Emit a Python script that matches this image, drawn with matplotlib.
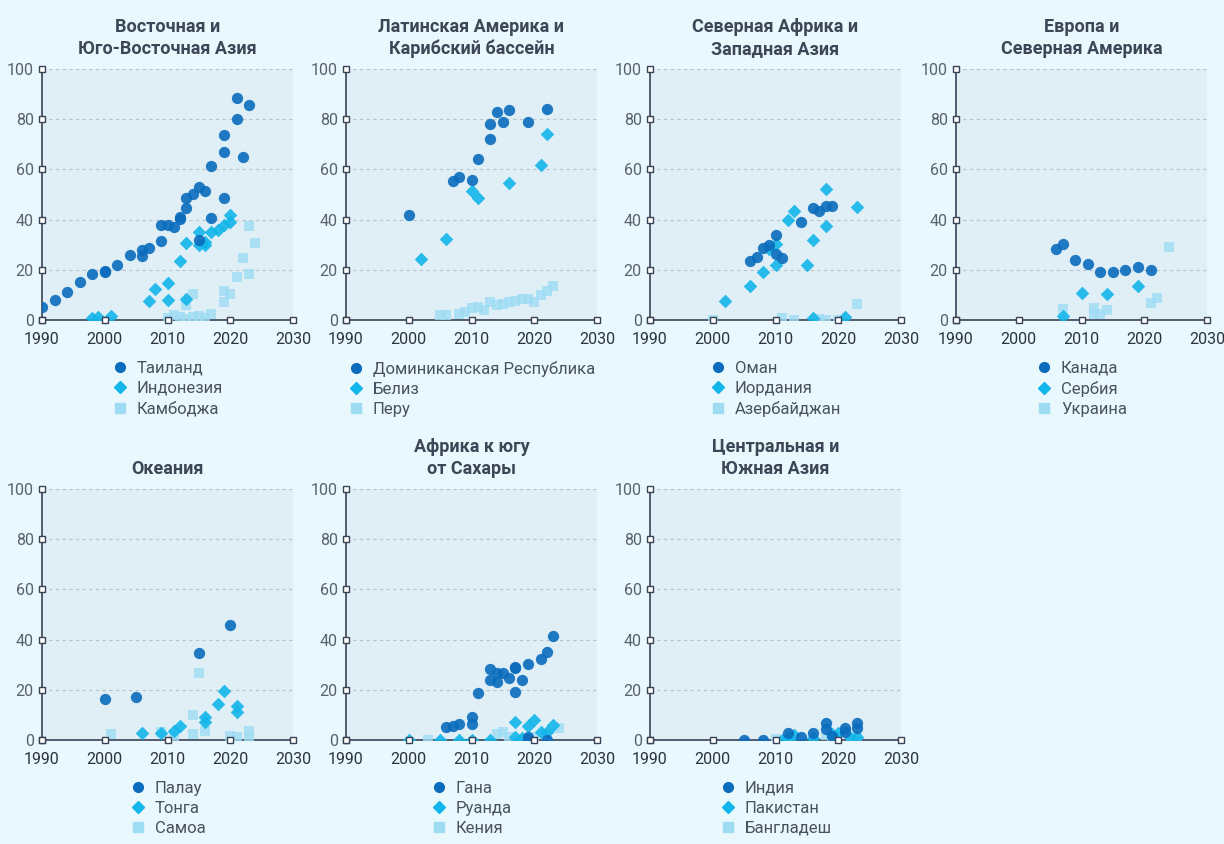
import matplotlib
matplotlib.use('Agg')
import matplotlib.pyplot as plt
from matplotlib.lines import Line2D

plt.rcParams['font.family'] = ['Roboto', 'DejaVu Sans']

# panel titles and series names
titles = ['Восточная и\nЮго-Восточная Азия', 'Латинская Америка и\nКарибский бассейн',
          'Северная Африка и\nЗападная Азия', 'Европа и\nСеверная Америка',
          'Океания', 'Африка к югу\nот Сахары', 'Центральная и\nЮжная Азия']
names = [['Таиланд', 'Индонезия', 'Камбоджа'],
         ['Доминиканская Республика', 'Белиз', 'Перу'],
         ['Оман', 'Иордания', 'Азербайджан'],
         ['Канада', 'Сербия', 'Украина'],
         ['Палау', 'Тонга', 'Самоа'],
         ['Гана', 'Руанда', 'Кения'],
         ['Индия', 'Пакистан', 'Бангладеш']]

# East & South-East Asia
th_x = [1990, 1992, 1994, 1996, 1998, 2000, 2000, 2002, 2004, 2006, 2006, 2007, 2009, 2009, 2010, 2011,
        2012, 2012, 2013, 2013, 2014, 2015, 2015, 2016, 2017, 2017, 2019, 2019, 2019, 2021, 2021, 2022, 2023]
th_y = [5.0, 8, 11, 15, 18.3, 19.7, 19, 22, 26, 28, 25.5, 28.5, 31.6, 37.7, 37.7, 37.2,
        41, 40.2, 48.5, 44.8, 50, 53, 31.9, 51.4, 61.5, 40.5, 73.8, 66.8, 48.5, 88.6, 80, 65, 85.6]
id_x = [1998, 1999, 2001, 2007, 2008, 2010, 2010, 2012, 2013, 2013, 2015, 2015, 2016, 2016, 2017, 2018,
        2019, 2020, 2020]
id_y = [0.7, 1, 1.6, 7.7, 12.4, 14.9, 8, 23.6, 30.8, 8.2, 35, 30, 31, 30, 35.2, 36, 38, 42, 39]
kh_x = [2010, 2011, 2012, 2013, 2013, 2014, 2014, 2015, 2016, 2017, 2019, 2019, 2020, 2021, 2022, 2023,
        2023, 2024]
kh_y = [0.7, 2, 1, 6, 0.5, 10.4, 1.3, 1.6, 0.7, 2.4, 11.6, 7, 10.4, 17, 24.6, 18.5, 37.5, 30.5]

# Latin America & Caribbean
do_x = [2000, 2007, 2008, 2010, 2011, 2013, 2013, 2014, 2015, 2016, 2019, 2022]
do_y = [41.7, 55.5, 57.1, 55.9, 64.3, 78, 72.2, 83, 78.8, 83.8, 78.8, 84.2]
bz_x = [2002, 2006, 2010, 2011, 2016, 2021, 2022]
bz_y = [24.2, 32.1, 51.5, 48.6, 54.6, 61.8, 74.2]
pe_x = [2005, 2006, 2008, 2009, 2010, 2011, 2012, 2013, 2014, 2015, 2016, 2017, 2018, 2019, 2020,
        2021, 2022, 2023]
pe_y = [2, 2, 2.4, 3, 4.6, 5.2, 4, 7, 6, 6.2, 7, 7.7, 8.2, 8.2, 7, 10, 11.7, 13.7]

# North Africa & Western Asia
om_x = [2006, 2007, 2008, 2009, 2010, 2010, 2011, 2014, 2016, 2017, 2018, 2019]
om_y = [23.5, 25.1, 28.8, 29.9, 34, 26.2, 24.8, 38.9, 44.6, 43.3, 45.5, 45.5]
jo_x = [2002, 2006, 2008, 2009, 2010, 2010, 2012, 2013, 2015, 2016, 2016, 2018, 2018, 2021, 2023]
jo_y = [7.7, 13.5, 19.3, 28.2, 30.4, 22, 39.8, 43.3, 21.8, 31.9, 0.7, 52.2, 37.6, 1, 45]
az_x = [2000, 2011, 2013, 2017, 2018, 2020, 2023]
az_y = [0, 0.8, 0, 0.3, 0, 0, 6.4]

# Europe & North America
ca_x = [2006, 2007, 2009, 2011, 2013, 2015, 2017, 2019, 2021]
ca_y = [28.4, 30.4, 24, 22.3, 19.3, 19.3, 20, 21, 19.9]
rs_x = [2007, 2010, 2014, 2019]
rs_y = [1.7, 10.6, 10.4, 13.5]
ua_x = [2007, 2012, 2012, 2013, 2014, 2021, 2022, 2024]
ua_y = [4.2, 4.9, 2.4, 2.4, 3.9, 6.9, 8.8, 29]

# Oceania
pw_x = [2000, 2005, 2015, 2020]
pw_y = [16.3, 17.3, 34.7, 45.8]
to_x = [2006, 2009, 2011, 2012, 2016, 2016, 2018, 2019, 2021, 2021]
to_y = [2.7, 2.7, 3.7, 5.7, 9.3, 7, 14.2, 19.7, 13.5, 11.3]
ws_x = [2001, 2009, 2011, 2014, 2014, 2015, 2016, 2020, 2021, 2023, 2023]
ws_y = [2.3, 3.3, 1.6, 9.8, 2.4, 26.7, 3.7, 1.6, 1, 3.7, 0.7]

# Sub-Saharan Africa
gh_x = [2006, 2007, 2008, 2010, 2010, 2011, 2013, 2013, 2014, 2014, 2015, 2016, 2017, 2017, 2017,
        2018, 2019, 2019, 2019, 2021, 2022, 2022, 2023]
gh_y = [5.3, 5.6, 6.5, 9.2, 6.5, 18.9, 28.2, 24, 26.6, 23.2, 26.8, 24.8, 28.7, 28.9, 19.3,
        24, 30.4, 0.3, 1.3, 32.4, 34.9, 0, 41.3]
rw_x = [2000, 2005, 2008, 2010, 2013, 2017, 2017, 2018, 2019, 2020, 2021, 2022, 2023]
rw_y = [0, 0, 0, 0, 0, 7, 1.3, 0.7, 5.6, 8, 3, 3.3, 5.8]
ke_x = [2003, 2014, 2015, 2016, 2018, 2020, 2022, 2024]
ke_y = [0, 2.4, 3.3, 1, 0.3, 1, 2, 4.6]

# Central & South Asia
in_x = [2005, 2008, 2012, 2014, 2016, 2018, 2018, 2019, 2021, 2021, 2023, 2023]
in_y = [0, 0, 2.7, 1.3, 2.7, 6.9, 4.2, 1.6, 4.6, 3.3, 6.9, 4.6]
pk_x = [2011, 2012, 2013, 2016, 2019, 2020, 2022, 2023]
pk_y = [0, 0.7, 2, 0.7, 2.4, 2.7, 0.7, 1.3]
bd_x = [2010, 2012, 2018, 2019, 2022, 2023]
bd_y = [0.3, 0, 2, 0.7, 0.3, 0.7]

panels = [[(th_x, th_y), (id_x, id_y), (kh_x, kh_y)],
          [(do_x, do_y), (bz_x, bz_y), (pe_x, pe_y)],
          [(om_x, om_y), (jo_x, jo_y), (az_x, az_y)],
          [(ca_x, ca_y), (rs_x, rs_y), (ua_x, ua_y)],
          [(pw_x, pw_y), (to_x, to_y), (ws_x, ws_y)],
          [(gh_x, gh_y), (rw_x, rw_y), (ke_x, ke_y)],
          [(in_x, in_y), (pk_x, pk_y), (bd_x, bd_y)]]

colors = ['#0a6cbd', '#12b6ea', '#9edcf3']
markers = ['o', 'D', 's']
sizes = [66, 48, 58]
alphas = [0.9, 0.9, 0.8]

W, H = 1224, 844
fig = plt.figure(figsize=(W / 100, H / 100), dpi=100)
fig.patch.set_facecolor('#e8f8fd')

lefts = [42, 346, 650, 956]
tops = [69, 489]
aw, ah = 251, 251

for i in range(7):
    r, c = divmod(i, 4)
    ax = fig.add_axes([lefts[c] / W, 1 - (tops[r] + ah) / H, aw / W, ah / H])
    ax.set_facecolor('#dfeff5')
    for k in range(3):
        x, y = panels[i][k]
        ax.scatter(x, y, s=sizes[k], marker=markers[k], color=colors[k], alpha=alphas[k],
                   linewidths=0, zorder=4 - k * 0.5, label=names[i][k])
    ax.set_xlim(1990, 2030)
    ax.set_ylim(0, 100)
    ax.set_xticks(range(1990, 2031, 10))
    ax.set_yticks(range(0, 101, 20))
    ax.grid(axis='y', linestyle=(0, (3, 3)), color='#b7c3cb', linewidth=0.8)
    ax.set_axisbelow(True)
    for s in ['top', 'right']:
        ax.spines[s].set_visible(False)
    for s in ['left', 'bottom']:
        ax.spines[s].set_color('#3a4256')
        ax.spines[s].set_linewidth(1.2)
    ax.tick_params(length=0, labelsize=11.5, colors='#3a4256')
    ax.tick_params(axis='y', labelcolor='#59616d', pad=6)
    ax.tick_params(axis='x', labelcolor='#2c3340', pad=9)
    # small square tick boxes
    ax.plot(range(1990, 2031, 10), [0] * 5, ls='none', marker='s', ms=5,
            mfc='white', mec='#3a4256', mew=1, clip_on=False, zorder=6)
    ax.plot([1990] * 6, range(0, 101, 20), ls='none', marker='s', ms=5,
            mfc='white', mec='#3a4256', mew=1, clip_on=False, zorder=6)
    ax.set_title(titles[i], fontsize=13, fontweight='bold', color='#3d4656',
                 pad=11, linespacing=1.25)
    handles = [Line2D([], [], ls='none', marker=markers[k], color=colors[k], ms=[7, 6.5, 6.5][k])
               for k in range(3)]
    ax.legend(handles, names[i], loc='upper center', bbox_to_anchor=(0.5, -0.13),
              frameon=False, fontsize=12, labelcolor='#4a5160', handletextpad=0.5,
              labelspacing=0.3, handlelength=1.0, borderpad=0)

fig.savefig('out.png', dpi=100, facecolor=fig.get_facecolor())
